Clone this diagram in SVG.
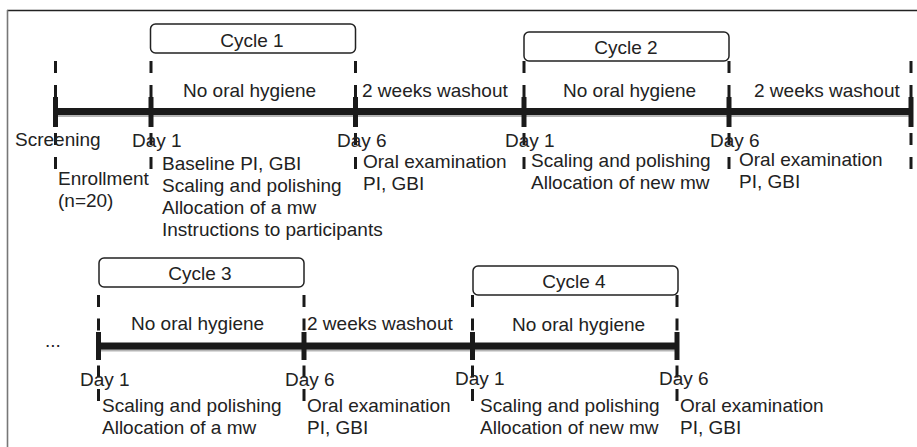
<svg xmlns="http://www.w3.org/2000/svg" width="917" height="447" viewBox="0 0 917 447">
<style>
text{font-family:"Liberation Sans",Arial,sans-serif;font-size:19px;fill:#222}
.c{text-anchor:middle}
.box{fill:#fff;stroke:#222;stroke-width:1.5}
.axis{stroke:#1a1a1a;stroke-width:7;fill:none}
.shadow{stroke:#b5b5b5;stroke-width:7;fill:none}
.tick{stroke:#1a1a1a;stroke-width:5}
.d1{stroke:#1a1a1a;stroke-width:3;stroke-dasharray:12 12}
.d2{stroke:#1a1a1a;stroke-width:3;stroke-dasharray:12 11.5}
</style>
<rect x="0" y="0" width="917" height="447" fill="#fff"/>
<g id="frame">
<line x1="7" y1="10.5" x2="917" y2="10.5" stroke="#222" stroke-width="1.3"/>
<line x1="7.5" y1="10" x2="7.5" y2="447" stroke="#777" stroke-width="1.6"/>
</g>
<g id="connectors">
<line class="shadow" x1="56" y1="113.5" x2="911" y2="113.5"/>
<line class="axis" x1="55" y1="111.5" x2="911" y2="111.5"/>
<line class="shadow" x1="99" y1="348" x2="677" y2="348"/>
<line class="axis" x1="98" y1="346" x2="677" y2="346"/>
<g class="d1">
<line x1="55.5" y1="61" x2="55.5" y2="169"/>
<line x1="151" y1="61" x2="151" y2="169"/>
<line x1="355.5" y1="61" x2="355.5" y2="169"/>
<line x1="524" y1="61" x2="524" y2="169"/>
<line x1="729" y1="61" x2="729" y2="169"/>
<line x1="911" y1="61" x2="911" y2="169"/>
</g>
<g class="d2">
<line x1="98.5" y1="295" x2="98.5" y2="402"/>
<line x1="304" y1="295" x2="304" y2="402"/>
<line x1="472.5" y1="295" x2="472.5" y2="402"/>
<line x1="677" y1="295" x2="677" y2="402"/>
</g>
<g class="tick">
<line x1="55.5" y1="97" x2="55.5" y2="127"/>
<line x1="151" y1="97" x2="151" y2="127"/>
<line x1="355.5" y1="97" x2="355.5" y2="127"/>
<line x1="524" y1="97" x2="524" y2="127"/>
<line x1="729" y1="97" x2="729" y2="127"/>
<line x1="911" y1="97" x2="911" y2="127"/>
<line x1="98.5" y1="332" x2="98.5" y2="360"/>
<line x1="304" y1="332" x2="304" y2="360"/>
<line x1="472.5" y1="332" x2="472.5" y2="360"/>
<line x1="677" y1="332" x2="677" y2="360"/>
</g>
</g>
<g id="cycle1"><rect class="box" x="150.5" y="24" width="205" height="29" rx="5"/><text class="c" x="252" y="47">Cycle 1</text></g>
<g id="cycle2"><rect class="box" x="524" y="32" width="205" height="29" rx="5"/><text class="c" x="626" y="54">Cycle 2</text></g>
<g id="cycle3"><rect class="box" x="99" y="258" width="205" height="29" rx="5"/><text class="c" x="200" y="280">Cycle 3</text></g>
<g id="cycle4"><rect class="box" x="473" y="266" width="205" height="29" rx="5"/><text class="c" x="574" y="288">Cycle 4</text></g>
<g id="phases">
<text x="183" y="97">No oral hygiene</text>
<text x="362" y="97">2 weeks washout</text>
<text x="563" y="97">No oral hygiene</text>
<text x="754" y="97">2 weeks washout</text>
<text x="131" y="330">No oral hygiene</text>
<text x="307" y="330">2 weeks washout</text>
<text x="512" y="331">No oral hygiene</text>
</g>
<g id="row1-labels">
<text x="15" y="146">Screening</text>
<text x="132" y="147">Day 1</text>
<text x="337" y="147">Day 6</text>
<text x="505" y="147">Day 1</text>
<text x="710" y="147">Day 6</text>
<text x="58" y="185">Enrollment</text>
<text x="58" y="207">(n=20)</text>
<text x="162" y="170">Baseline PI, GBI</text>
<text x="162" y="192">Scaling and polishing</text>
<text x="162" y="214">Allocation of a mw</text>
<text x="162" y="236">Instructions to participants</text>
<text x="363" y="168">Oral examination</text>
<text x="363" y="190">PI, GBI</text>
<text x="531" y="167">Scaling and polishing</text>
<text x="531" y="189">Allocation of new mw</text>
<text x="739" y="166">Oral examination</text>
<text x="739" y="188">PI, GBI</text>
</g>
<g id="row2-labels">
<text x="45" y="347">...</text>
<text x="80" y="386">Day 1</text>
<text x="285" y="386">Day 6</text>
<text x="455" y="385">Day 1</text>
<text x="659" y="385">Day 6</text>
<text x="102" y="412">Scaling and polishing</text>
<text x="102" y="434">Allocation of a mw</text>
<text x="307" y="412">Oral examination</text>
<text x="307" y="434">PI, GBI</text>
<text x="480" y="412">Scaling and polishing</text>
<text x="480" y="434">Allocation of new mw</text>
<text x="680" y="412">Oral examination</text>
<text x="680" y="434">PI, GBI</text>
</g>
</svg>
